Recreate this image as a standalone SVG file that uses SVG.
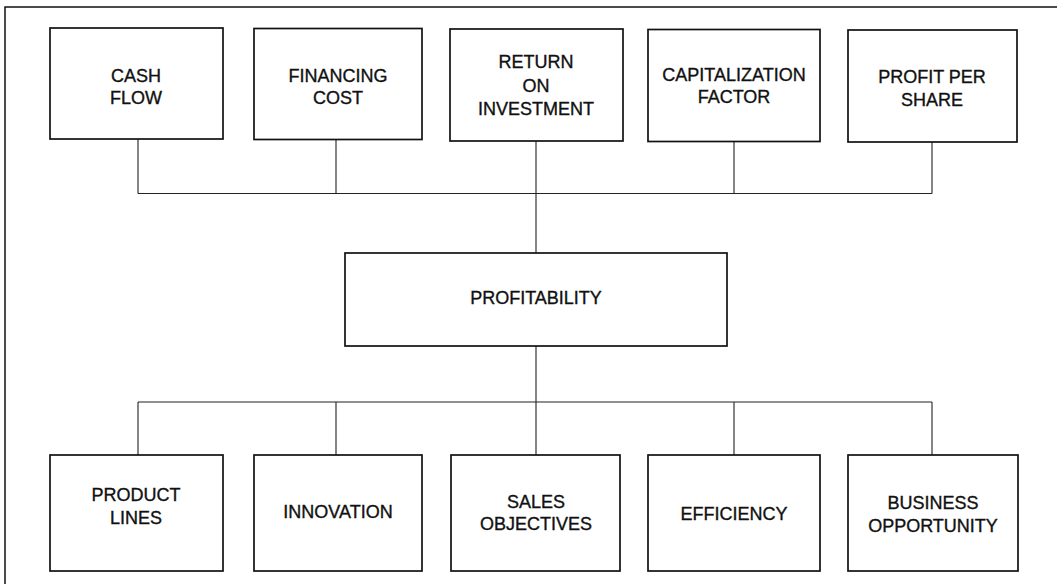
<svg xmlns="http://www.w3.org/2000/svg" width="1057" height="584" viewBox="0 0 1057 584">
<style>
.box{fill:#fff;stroke:#111;stroke-width:1.7}
.lbl{font-family:"Liberation Sans",Arial,sans-serif;font-size:18px;fill:#111;stroke:#111;stroke-width:0.35;text-anchor:middle}
.con{fill:none;stroke:#222;stroke-width:1.1}
.frame{fill:none;stroke:#111;stroke-width:1.5}
</style>
<rect width="1057" height="584" fill="#fff"/>
<path class="frame" d="M5,584 V7 H1057"/>
<g id="connectors">
<path class="con" d="M138,139 V193.5 M336,139 V193.5 M536,141 V253 M734,141 V193.5 M932,142 V193.5 M138,193.5 H932"/>
<path class="con" d="M536,346 V455 M138,402 H932 M138,402 V455 M336,402 V455 M734,402 V455 M932,402 V455"/>
</g>
<g id="cash-flow"><rect class="box" x="50" y="28" width="173" height="111"/><text class="lbl" x="136" y="82">CASH</text><text class="lbl" x="136" y="104">FLOW</text></g>
<g id="financing-cost"><rect class="box" x="254" y="28.5" width="168" height="111"/><text class="lbl" x="338" y="82">FINANCING</text><text class="lbl" x="338" y="104">COST</text></g>
<g id="return-on-investment"><rect class="box" x="450" y="29" width="173" height="112"/><text class="lbl" x="536" y="68">RETURN</text><text class="lbl" x="536" y="92">ON</text><text class="lbl" x="536" y="115">INVESTMENT</text></g>
<g id="capitalization-factor"><rect class="box" x="648" y="29.5" width="172" height="112"/><text class="lbl" x="734" y="81">CAPITALIZATION</text><text class="lbl" x="734" y="103">FACTOR</text></g>
<g id="profit-per-share"><rect class="box" x="848" y="30" width="169" height="112"/><text class="lbl" x="932" y="83">PROFIT PER</text><text class="lbl" x="932" y="106">SHARE</text></g>
<g id="profitability"><rect class="box" x="345" y="253" width="382" height="93"/><text class="lbl" x="536" y="304">PROFITABILITY</text></g>
<g id="product-lines"><rect class="box" x="50" y="455" width="173" height="116"/><text class="lbl" x="136" y="501">PRODUCT</text><text class="lbl" x="136" y="524">LINES</text></g>
<g id="innovation"><rect class="box" x="254" y="455" width="168" height="116"/><text class="lbl" x="338" y="518">INNOVATION</text></g>
<g id="sales-objectives"><rect class="box" x="451" y="455" width="169" height="116"/><text class="lbl" x="536" y="508">SALES</text><text class="lbl" x="536" y="530">OBJECTIVES</text></g>
<g id="efficiency"><rect class="box" x="648" y="455" width="172" height="116"/><text class="lbl" x="734" y="520">EFFICIENCY</text></g>
<g id="business-opportunity"><rect class="box" x="848" y="455" width="170" height="116"/><text class="lbl" x="933" y="509">BUSINESS</text><text class="lbl" x="933" y="532">OPPORTUNITY</text></g>
</svg>
